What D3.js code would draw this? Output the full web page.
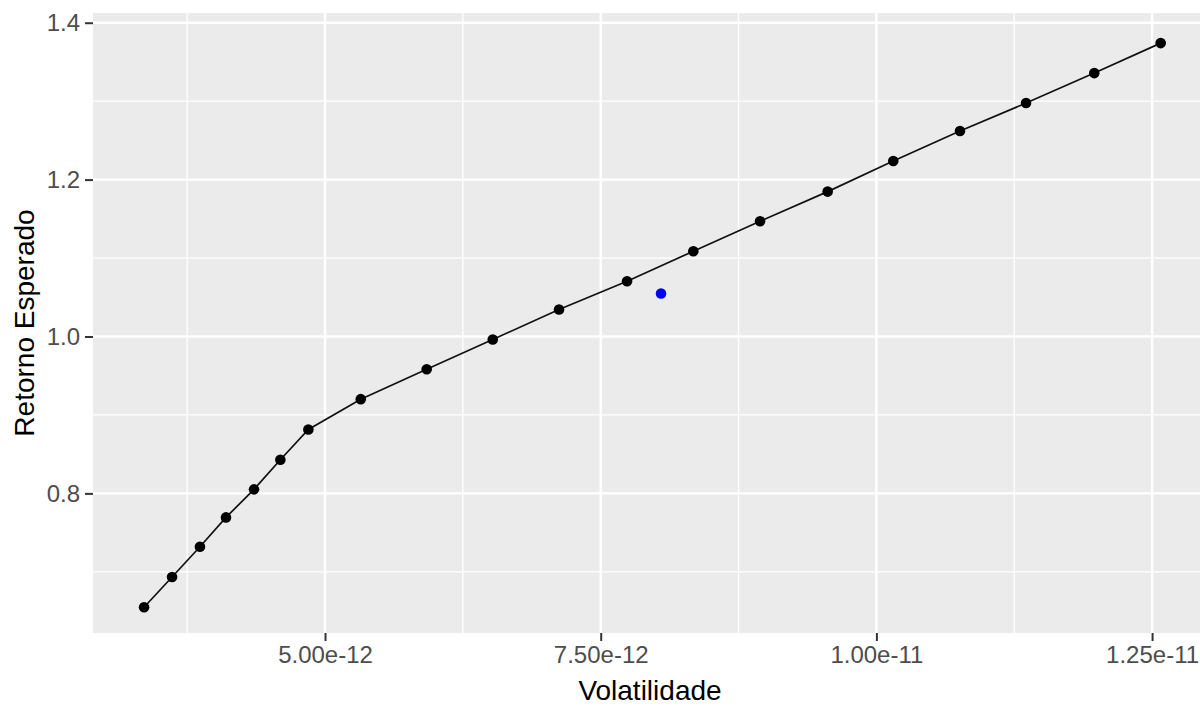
<!DOCTYPE html>
<html>
<head>
<meta charset="utf-8">
<script src="https://cdn.jsdelivr.net/npm/d3@7"></script>
<style>
  body { margin: 0; background: #fff; }
  svg { display: block; font-family: "Liberation Sans", Arial, sans-serif; }
</style>
</head>
<body>
<svg id="chart"></svg>
<script>
// fronteira eficiente (volatilidade, retorno esperado)
let volatilidade = [
  3.359e-12, 3.613e-12, 3.866e-12, 4.102e-12, 4.356e-12, 4.595e-12, 4.849e-12,
  5.324e-12, 5.922e-12, 6.521e-12, 7.122e-12, 7.739e-12, 8.340e-12, 8.945e-12,
  9.558e-12, 1.0153e-11, 1.0758e-11, 1.1357e-11, 1.1976e-11, 1.2578e-11
];
let retorno = [
  0.6548, 0.6934, 0.7320, 0.7694, 0.8051, 0.8428, 0.8815,
  0.9201, 0.9583, 0.9962, 1.0344, 1.0704, 1.1087, 1.1469,
  1.1847, 1.2237, 1.2619, 1.2976, 1.3358, 1.3740
];
// carteira destacada
let pontoAzul = [8.047e-12, 1.0548];

let xTicks = [5.0e-12, 7.5e-12, 1.0e-11, 1.25e-11];
let xMinor = [3.75e-12, 6.25e-12, 8.75e-12, 1.125e-11];
let yTicks = [0.8, 1.0, 1.2, 1.4];
let yMinor = [0.7, 0.9, 1.1, 1.3];

function getConfig() {
    let width = 1200;
    let height = 706;
    let panel = { left: 93, top: 13, right: 1207, bottom: 633 };
    let container = d3.select('#chart')
        .attr('width', width)
        .attr('height', height);
    return { width, height, panel, container };
}

function getScales(config) {
    let { panel } = config;
    let xScale = d3.scaleLinear()
        .domain([2.896e-12, 1.2998e-11])
        .range([panel.left, panel.right]);
    let yScale = d3.scaleLinear()
        .domain([0.622, 1.4124])
        .range([panel.bottom, panel.top]);
    return { xScale, yScale };
}

function drawPanel(config, scales) {
    let { container, panel } = config;
    let { xScale, yScale } = scales;

    container.append('rect')
        .attr('x', panel.left)
        .attr('y', panel.top)
        .attr('width', panel.right - panel.left)
        .attr('height', panel.bottom - panel.top)
        .attr('fill', '#ebebeb');

    let grid = container.append('g');
    // minor grid
    grid.selectAll('.xminor').data(xMinor).enter().append('line')
        .attr('x1', d => xScale(d)).attr('x2', d => xScale(d))
        .attr('y1', panel.top).attr('y2', panel.bottom)
        .attr('stroke', '#fff').attr('stroke-width', 1.3);
    grid.selectAll('.yminor').data(yMinor).enter().append('line')
        .attr('y1', d => yScale(d)).attr('y2', d => yScale(d))
        .attr('x1', panel.left).attr('x2', panel.right)
        .attr('stroke', '#fff').attr('stroke-width', 1.3);
    // major grid
    grid.selectAll('.xmajor').data(xTicks).enter().append('line')
        .attr('x1', d => xScale(d)).attr('x2', d => xScale(d))
        .attr('y1', panel.top).attr('y2', panel.bottom)
        .attr('stroke', '#fff').attr('stroke-width', 2.4);
    grid.selectAll('.ymajor').data(yTicks).enter().append('line')
        .attr('y1', d => yScale(d)).attr('y2', d => yScale(d))
        .attr('x1', panel.left).attr('x2', panel.right)
        .attr('stroke', '#fff').attr('stroke-width', 2.4);
}

function drawData(config, scales) {
    let { container } = config;
    let { xScale, yScale } = scales;
    let pontos = volatilidade.map((v, i) => ({ v: v, r: retorno[i] }));

    let line = d3.line()
        .x(d => xScale(d.v))
        .y(d => yScale(d.r));

    container.append('path')
        .datum(pontos)
        .attr('d', line)
        .attr('fill', 'none')
        .attr('stroke', '#111')
        .attr('stroke-width', 1.7);

    container.selectAll('.ponto').data(pontos)
        .enter().append('circle')
        .attr('cx', d => xScale(d.v))
        .attr('cy', d => yScale(d.r))
        .attr('r', 5.3)
        .attr('fill', '#000');

    container.append('circle')
        .attr('cx', xScale(pontoAzul[0]))
        .attr('cy', yScale(pontoAzul[1]))
        .attr('r', 5.3)
        .attr('fill', '#0000ff');
}

function drawAxes(config, scales) {
    let { container, panel } = config;
    let { xScale, yScale } = scales;

    let axisX = d3.axisBottom(xScale)
        .tickValues(xTicks)
        .tickFormat(d3.format('.2e'))
        .tickSize(8)
        .tickPadding(5);
    let gx = container.append('g')
        .attr('transform', `translate(0,${panel.bottom})`)
        .call(axisX);

    let axisY = d3.axisLeft(yScale)
        .tickValues(yTicks)
        .tickFormat(d3.format('.1f'))
        .tickSize(8)
        .tickPadding(5);
    let gy = container.append('g')
        .attr('transform', `translate(${panel.left},0)`)
        .call(axisY);

    [gx, gy].forEach(g => {
        g.select('.domain').remove();
        g.selectAll('.tick line').attr('stroke', '#333').attr('stroke-width', 2);
        g.selectAll('.tick text')
            .attr('fill', '#4d4d4d')
            .style('font-size', '24px')
            .style('font-family', '"Liberation Sans", Arial, sans-serif');
    });

    container.append('text')
        .attr('x', (panel.left + panel.right) / 2)
        .attr('y', 700)
        .attr('text-anchor', 'middle')
        .attr('fill', '#000')
        .style('font-size', '28px')
        .text('Volatilidade');

    container.append('text')
        .attr('transform', `translate(34,${(panel.top + panel.bottom) / 2}) rotate(-90)`)
        .attr('text-anchor', 'middle')
        .attr('fill', '#000')
        .style('font-size', '28px')
        .text('Retorno Esperado');
}

let config = getConfig();
let scales = getScales(config);
drawPanel(config, scales);
drawData(config, scales);
drawAxes(config, scales);
</script>
</body>
</html>
